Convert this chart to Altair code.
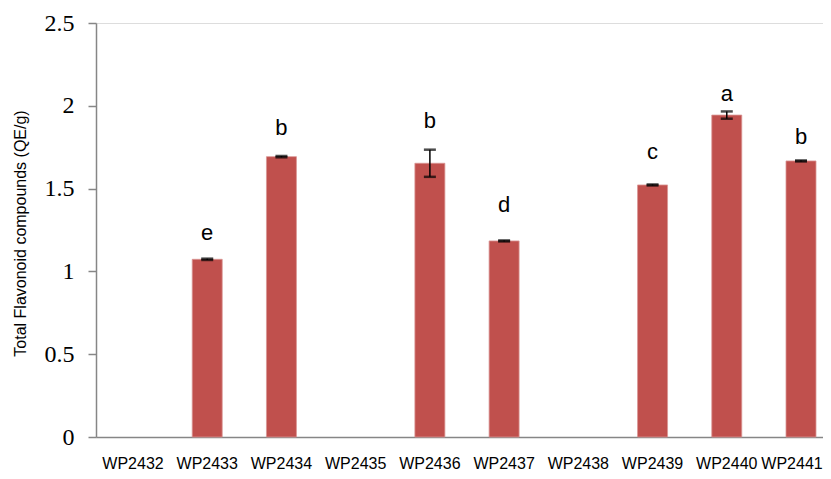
import altair as alt
import pandas as pd

categories = ["WP2432", "WP2433", "WP2434", "WP2435", "WP2436",
              "WP2437", "WP2438", "WP2439", "WP2440", "WP2441"]
bar_cats = ["WP2433", "WP2434", "WP2436", "WP2437", "WP2439", "WP2440", "WP2441"]
values = [1.073, 1.693, 1.653, 1.184, 1.522, 1.944, 1.667]
errors = [0.004, 0.004, 0.082, 0.003, 0.003, 0.022, 0.003]
letters = ["e", "b", "b", "d", "c", "a", "b"]
letter_y = [1.19, 1.824, 1.866, 1.359, 1.679, 2.029, 1.769]

df = pd.DataFrame({
    "cat": bar_cats,
    "val": values,
    "lo": [v - e for v, e in zip(values, errors)],
    "hi": [v + e for v, e in zip(values, errors)],
    "letter": letters,
    "ly": letter_y,
})

xscale = alt.Scale(domain=categories, range=[0, 742], paddingInner=0.596, paddingOuter=0.2965)
yscale = alt.Scale(domain=[0, 2.5], nice=False)

x = alt.X("cat:N", scale=xscale, sort=categories, title=None,
          axis=alt.Axis(labelAngle=0, ticks=False, labelFont="Liberation Sans",
                        labelFontSize=16, labelColor="#000000", labelPadding=18,
                        labelOffset={"condition": {"test": "datum.value == 'WP2441'", "value": -9},
                                     "value": 0},
                        domainColor="#868686", domainWidth=1.5))

base = alt.Chart(df)

bars = base.mark_bar(color="#C0504D", stroke="#D99694", strokeWidth=0.8).encode(
    x=x,
    y=alt.Y("val:Q", scale=yscale,
            title="Total Flavonoid compounds (QE/g)",
            axis=alt.Axis(values=[0, 0.5, 1, 1.5, 2, 2.5], format="~g", grid=False,
                          labelFont="Liberation Serif", labelFontSize=24,
                          labelColor="#000000", labelPadding=14,
                          tickSize=8, tickColor="#868686", tickWidth=1.5,
                          domainColor="#868686", domainWidth=1.5,
                          titleFont="Liberation Sans", titleFontSize=16,
                          titleFontWeight="normal", titleColor="#000000",
                          titleAngle=270, titleAlign="center", titleBaseline="middle",
                          titleX=-76, titleY=210)),
)

rules = base.mark_rule(color="#000000", strokeWidth=1.5).encode(
    x=alt.X("cat:N", scale=xscale, sort=categories),
    y=alt.Y("lo:Q", scale=yscale),
    y2="hi:Q",
)

caps_hi = base.mark_tick(color="#000000", size=12, thickness=2.5, orient="horizontal").encode(
    x=alt.X("cat:N", scale=xscale, sort=categories),
    y=alt.Y("hi:Q", scale=yscale),
)
caps_lo = base.mark_tick(color="#000000", size=12, thickness=2.5, orient="horizontal").encode(
    x=alt.X("cat:N", scale=xscale, sort=categories),
    y=alt.Y("lo:Q", scale=yscale),
)

text = base.mark_text(font="Liberation Sans", fontSize=22, color="#000000",
                      baseline="alphabetic", align="center").encode(
    x=alt.X("cat:N", scale=xscale, sort=categories),
    y=alt.Y("ly:Q", scale=yscale),
    text="letter:N",
)

chart = alt.layer(bars, rules, caps_hi, caps_lo, text).properties(
    width=734, height=414,
    autosize=alt.AutoSizeParams(type="none"),
    padding={"left": 88, "top": 15, "right": -7, "bottom": 34},
).configure_view(stroke=None).configure(background="#ffffff")

chart.save("out.html", embed_options={"renderer": "svg", "actions": False})
